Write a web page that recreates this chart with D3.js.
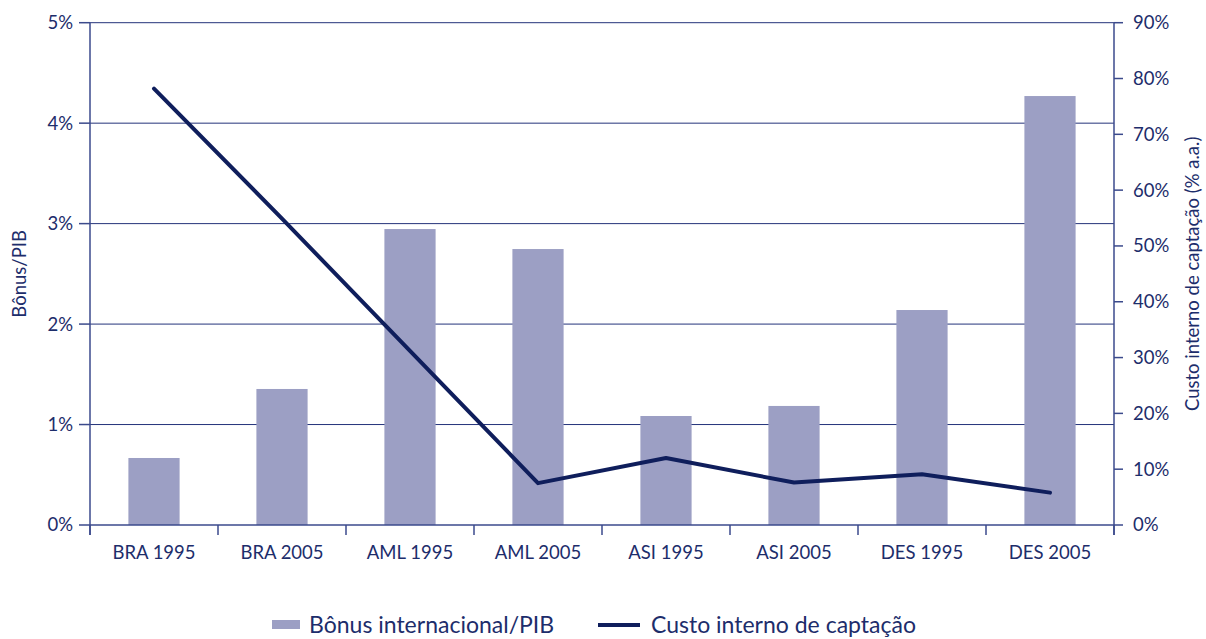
<!DOCTYPE html>
<html><head><meta charset="utf-8">
<script src="https://cdn.jsdelivr.net/npm/d3@7"></script>
<style>body{margin:0;background:#fff}svg{display:block;font-family:Lato,"Open Sans",sans-serif}</style>
</head><body>
<svg id="c" width="1206" height="639"></svg>
<script>
const categories = ["BRA 1995","BRA 2005","AML 1995","AML 2005","ASI 1995","ASI 2005","DES 1995","DES 2005"];
const bonusPIB = [0.667,1.354,2.946,2.747,1.085,1.185,2.14,4.27];
const custoInterno = [78.2,54.9,31.2,7.5,12.0,7.6,9.1,5.8];
const leftTicks = [0,1,2,3,4,5];
const rightTicks = [0,10,20,30,40,50,60,70,80,90];

const txt = "#1d2d6b", axisC = "#3b4a8c", barC = "#9c9fc4", lineC = "#0f1e5c";
const svg = d3.select("#c");
const L = 90, R = 1114, T = 22.7, B = 525;
const x = d3.scaleBand().domain(categories).range([L, R]).paddingInner(0.6).paddingOuter(0.3);
const xb = d3.scaleBand().domain(categories).range([L, R]);
const yL = d3.scaleLinear().domain([0,5]).range([B, T]);
const yR = d3.scaleLinear().domain([0,90]).range([B, T]);

// gridlines
svg.append("g").selectAll("line").data(leftTicks.filter(d=>d>0)).join("line")
  .attr("x1", L).attr("x2", R).attr("y1", d=>yL(d)).attr("y2", d=>yL(d))
  .attr("stroke", "#24337a").attr("stroke-width", 1);

// bars
svg.append("g").selectAll("rect").data(categories).join("rect")
  .attr("x", d=>x(d)).attr("width", x.bandwidth())
  .attr("y", (d,i)=>yL(bonusPIB[i])).attr("height", (d,i)=>B - yL(bonusPIB[i]))
  .attr("fill", barC);

// bottom axis
const gx = svg.append("g").attr("transform", `translate(0,${B})`);
gx.append("line").attr("x1", L).attr("x2", R).attr("stroke", axisC).attr("stroke-width", 1.5);
gx.selectAll("line.t").data(d3.range(categories.length+1)).join("line").attr("class","t")
  .attr("x1", i=>L + i*xb.step()).attr("x2", i=>L + i*xb.step()).attr("y1", 0).attr("y2", 10)
  .attr("stroke", axisC).attr("stroke-width", 1.5);
gx.selectAll("text").data(categories).join("text")
  .attr("x", d=>xb(d)+xb.bandwidth()/2).attr("y", 34).attr("text-anchor","middle")
  .attr("fill", txt).attr("font-size", 18.5).text(d=>d);

// left axis
const gl = svg.append("g");
gl.append("line").attr("x1", L).attr("x2", L).attr("y1", T).attr("y2", B+10).attr("stroke", axisC).attr("stroke-width", 1.5);
gl.selectAll("line.t").data(leftTicks).join("line").attr("class","t")
  .attr("x1", L-11).attr("x2", L).attr("y1", d=>yL(d)).attr("y2", d=>yL(d)).attr("stroke", axisC).attr("stroke-width", 1.5);
gl.selectAll("text").data(leftTicks).join("text")
  .attr("x", L-17).attr("y", d=>yL(d)).attr("dy","0.35em").attr("text-anchor","end")
  .attr("fill", txt).attr("font-size", 18.5).text(d=>d+"%");
svg.append("text").attr("transform", `translate(26,${(T+B)/2}) rotate(-90)`).attr("text-anchor","middle")
  .attr("fill", txt).attr("font-size", 18.5).text("Bônus/PIB");

// right axis
const gr = svg.append("g");
gr.append("line").attr("x1", R).attr("x2", R).attr("y1", T).attr("y2", B+10).attr("stroke", axisC).attr("stroke-width", 1.5);
gr.selectAll("line.t").data(rightTicks).join("line").attr("class","t")
  .attr("x1", R).attr("x2", R+9).attr("y1", d=>yR(d)).attr("y2", d=>yR(d)).attr("stroke", axisC).attr("stroke-width", 1.5);
gr.selectAll("text").data(rightTicks).join("text")
  .attr("x", R+19).attr("y", d=>yR(d)).attr("dy","0.35em").attr("text-anchor","start")
  .attr("fill", txt).attr("font-size", 18.5).text(d=>d+"%");
svg.append("text").attr("transform", `translate(1199,${(T+B)/2}) rotate(-90)`).attr("text-anchor","middle")
  .attr("fill", txt).attr("font-size", 18.5).text("Custo interno de captação (% a.a.)");

// line
const line = d3.line().x((d,i)=>xb(categories[i])+xb.bandwidth()/2).y(d=>yR(d));
svg.append("path").datum(custoInterno).attr("d", line).attr("fill","none")
  .attr("stroke", lineC).attr("stroke-width", 4).attr("stroke-linejoin","round").attr("stroke-linecap","round");

// legend
const lg = svg.append("g");
lg.append("rect").attr("x", 272).attr("y", 620).attr("width", 28).attr("height", 9).attr("fill", barC);
lg.append("text").attr("x", 309).attr("y", 633).attr("fill", txt).attr("font-size", 23).text("Bônus internacional/PIB");
lg.append("line").attr("x1", 598).attr("x2", 640).attr("y1", 625).attr("y2", 625).attr("stroke", lineC).attr("stroke-width", 4);
lg.append("text").attr("x", 651).attr("y", 633).attr("fill", txt).attr("font-size", 23).text("Custo interno de captação");
</script>
</body></html>
